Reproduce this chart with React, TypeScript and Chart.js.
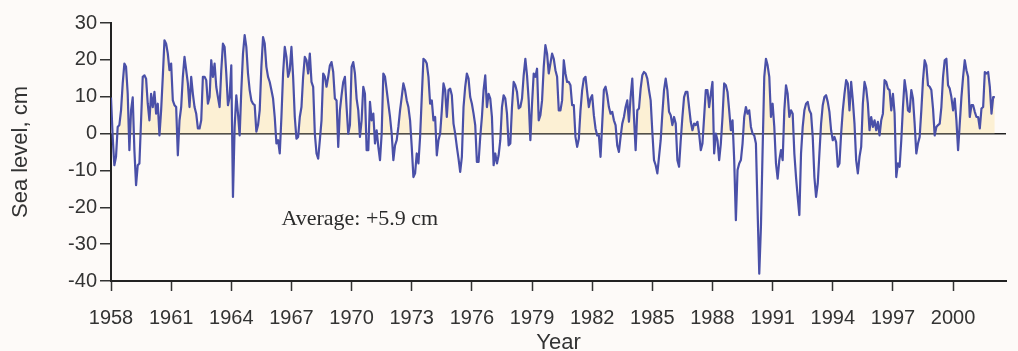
import React, { useEffect, useRef } from "react";
import { Chart, registerables } from "chart.js";

Chart.register(...registerables);

const startYear = 1958;
const yearTicks = [1958, 1961, 1964, 1967, 1970, 1973, 1976, 1979, 1982, 1985, 1988, 1991, 1994, 1997, 2000];
const levelTicks = [-40, -30, -20, -10, 0, 10, 20, 30];
const averageLabel = "Average: +5.9 cm";

// monthly sea level anomaly (cm), Jan 1958 onward
const seaLevel = [
  9.8, -0.9, -8.6, -6.3, 1.8, 2.3, 6.3, 13.6, 19, 18.1, 10.8, -4.5,
  6.3, 9.8, -4.5, -14, -8.6, -8.1, 3.6, 15.4, 15.8, 14.9, 8.1, 3.6,
  10.8, 7.2, 11.3, 5.4, 8.1, -0.5, 6.3, 15.4, 25.3, 24.4, 21.7, 17.2,
  19, 9, 7.7, 7.2, -5.9, 3.6, 7.2, 15.4, 20.8, 17.2, 13.6, 7.2,
  15.4, 10.8, 7.2, 5.4, 1.4, 1.4, 3.6, 15.4, 15.4, 14.5, 8.1, 9.9,
  19.9, 15.4, 19, 12.7, 9.9, 7.2, 17.2, 24.4, 23.5, 16.3, 7.7, 9.9,
  18.5, -17.2, 1.8, 10.4, 5.4, -0.5, 11.8, 21.7, 26.7, 23.5, 16.3, 11.8,
  9, 8.1, 7.7, 0.5, 2.3, 6.3, 18.1, 26.2, 24.4, 18.1, 15.4, 14,
  11.8, 9.5, 4.5, -2.7, -1.8, -5.4, 4.5, 16.3, 23.5, 20.8, 15.4, 17.2,
  23.5, 15.4, 4.5, -1.4, -0.9, 4.5, 7.2, 15.4, 20.8, 19.9, 16.3, 21.7,
  14, 12.7, 0, -5.4, -6.8, -1.8, 3.6, 16.3, 15.4, 12.7, 15.4, 18.5,
  19.4, 16.7, 9.5, 9, -3.6, 6.3, 10.4, 14, 15.4, 7.2, 0, 2.3,
  18.1, 19.4, 16.3, 9.5, 6.3, -0.9, 3.6, 12.7, 10.8, -4.5, -4.5, 8.6,
  3.6, 5.4, -2.7, 0.9, -3.6, -7.2, 0, 16.3, 15.4, 11.8, 8.1, 4.5,
  0, -7.2, -3.2, -1.8, 1.8, 6.3, 9.9, 13.6, 11.8, 9, 7.2, 3.6,
  -3.6, -11.8, -10.8, -5.4, -8.1, -0.9, 9.9, 20.3, 19.9, 19, 15.4, 8.1,
  9, 3.6, 4.5, -5.9, -1.8, 0, 6.3, 13.6, 11.8, 4.5, 11.8, 12.2,
  10.4, 2.7, 0, -3.6, -6.8, -10.4, -6.3, 7.2, 12.7, 16.3, 14.9, 9.9,
  8.1, 5.4, 2.3, -7.7, -7.7, -0.9, 4.5, 11.8, 15.8, 7.2, 10.8, 9.5,
  4.5, -8.6, -5.4, -8.1, -5.9, -1.8, 7.2, 10.4, 9.5, 5.4, -3.2, -2.7,
  7.2, 14, 13.1, 11.3, 6.8, 7.2, 9.5, 15.8, 20.3, 15.8, 9, -1.8,
  8.1, 16.3, 15.4, 17.6, 3.6, 5, 9, 18.1, 24, 21.7, 16.3, 19,
  21.7, 20.3, 17.2, 15.4, 6.3, 6.3, 9, 19.9, 16.3, 14, 14, 13.1,
  7.7, 7.7, -0.9, -3.6, -1.4, 6.3, 11.8, 14.9, 15.4, 11.3, 7.2, 9.5,
  10.4, 5, 1.4, -0.5, -0.5, -6.3, 2.7, 11.8, 12.7, 10.4, 7.2, 5.4,
  5.9, 3.6, 2.3, -3.2, -5, -0.9, 2.7, 4.5, 7.2, 9, 3.2, 9.9,
  14.9, 4.5, -4.5, 6.3, 6.8, 12.2, 15.8, 16.7, 16.3, 14.9, 11.8, 9,
  0.5, -7.2, -8.6, -10.8, -6.3, -1.8, 5.4, 11.8, 14.9, 11.8, 5.9, 5,
  2.3, 4.5, 2.7, -7.2, -9, -1.8, 4.5, 9.9, 11.3, 11.3, 7.2, 3.2,
  0.9, 2.7, 2.3, 3.2, 0, -4.5, -2.7, 4.5, 11.8, 11.8, 7.2, 10.8,
  14, -5.4, 0, -1.8, -7.2, -2.7, 4.5, 13.6, 13.1, 11.3, 6.3, 0.9,
  3.6, -7.2, -23.5, -9.9, -8.1, -7.2, -2.7, 4.5, 7.2, 5.4, 6.3, 1.8,
  0, -0.5, -2.7, -20.8, -38, -25.3, -4.5, 15.4, 20.3, 18.5, 15.4, 4.5,
  8.1, 1.8, -8.1, -12.2, -7.2, -4.5, -7.2, 6.3, 13.1, 10.8, 4.5, 6.3,
  5.4, -5.4, -11.8, -17.2, -22.1, -5.4, 1.8, 6.3, 8.1, 8.6, 6.3, 5.4,
  -0.9, -11.8, -17.2, -13.6, -5.4, 2.7, 7.7, 9.9, 10.4, 8.6, 5.9, 0.9,
  -1.8, -0.9, -2.3, -9, -8.1, 0, 6.3, 10.8, 14.5, 13.6, 6.3, 14,
  9, 2.7, -7.2, -10.8, -6.3, -3.6, 8.1, 14, 12.2, 8.1, 0.9, 4.5,
  1.8, 3.6, 0.9, 3.2, -0.5, 3.6, 5.4, 14.5, 14, 12.2, 11.8, 6.3,
  10.8, 5.4, -11.8, -8.1, -9, -1.8, 7.2, 14.5, 11.3, 6.3, 5.9, 11.8,
  9.5, 2.7, -5.4, -2.7, -0.9, 6.3, 14.5, 19.9, 18.5, 13.1, 12.7, 11.8,
  6.8, -0.5, 1.8, 2.3, 2.7, 7.2, 15.4, 19.9, 20.3, 13.1, 12.2, 9.9,
  6.3, 9.5, 3.6, -4.5, 2.7, 9.9, 15.4, 19.9, 17.2, 15.4, 4.5, 7.7,
  7.7, 5.9, 4.5, 4.5, 1.4, 6.8, 7.2, 16.7, 16.3, 16.7, 12.7, 5.4,
  9.9, 9.9,
];

const FONT = '"Liberation Sans", Arial, sans-serif';
const BG = "#fdfaf8";

export default function App() {
  const ref = useRef<HTMLCanvasElement | null>(null);

  useEffect(() => {
    if (!ref.current) return;
    const points = seaLevel.map((v, i) => ({ x: startYear + i / 12, y: v }));

    const bgPlugin = {
      id: "bg",
      beforeDraw(chart: any) {
        const c = chart.ctx;
        c.save();
        c.fillStyle = BG;
        c.fillRect(0, 0, chart.width, chart.height);
        c.restore();
      },
    };

    const labelPlugin = {
      id: "avgLabel",
      afterDraw(chart: any) {
        const c = chart.ctx;
        const xs = chart.scales.x;
        const ys = chart.scales.y;
        c.save();
        c.font = '22px "Liberation Serif", "Times New Roman", serif';
        c.fillStyle = "#2b2b2b";
        c.textAlign = "left";
        c.textBaseline = "middle";
        c.fillText(averageLabel, xs.getPixelForValue(1966.5), ys.getPixelForValue(-23.2));
        c.restore();
      },
    };

    const chart = new Chart(ref.current, {
      type: "line",
      data: {
        datasets: [
          {
            data: points,
            borderColor: "#4a50a8",
            borderWidth: 2.2,
            pointRadius: 0,
            tension: 0,
            borderJoinStyle: "round",
            fill: { target: { value: 0 }, above: "rgba(252,238,207,0.9)", below: "rgba(0,0,0,0)" },
          },
        ],
      },
      options: {
        animation: false,
        responsive: false,
        maintainAspectRatio: false,
        layout: { padding: { top: 23, right: 12, bottom: 0, left: 0 } },
        plugins: { legend: { display: false }, tooltip: { enabled: false } },
        scales: {
          x: {
            type: "linear",
            min: 1958,
            max: 2002.64,
            afterBuildTicks: (scale: any) => {
              scale.ticks = yearTicks.map((v) => ({ value: v }));
            },
            afterFit: (scale: any) => {
              scale.height = 70;
            },
            ticks: {
              autoSkip: false,
              maxRotation: 0,
              padding: 15,
              color: "#333",
              font: { family: FONT, size: 20 },
              callback: (v: any) => String(v),
            },
            grid: { drawOnChartArea: false, drawTicks: true, tickLength: 10, tickColor: "#333", tickWidth: 1.5 },
            border: { display: true, color: "#222", width: 2 },
            title: {
              display: true,
              text: "Year",
              color: "#333",
              font: { family: FONT, size: 22 },
              padding: { top: 0, bottom: -5 },
            },
          },
          y: {
            min: -40,
            max: 30,
            afterBuildTicks: (scale: any) => {
              scale.ticks = levelTicks.map((v) => ({ value: v }));
            },
            afterFit: (scale: any) => {
              scale.width = 111;
            },
            ticks: {
              padding: 3,
              color: "#333",
              font: { family: FONT, size: 20 },
            },
            grid: {
              drawOnChartArea: true,
              color: (ctx: any) => (ctx.tick && ctx.tick.value === 0 ? "#222" : "rgba(0,0,0,0)"),
              lineWidth: 1.5,
              drawTicks: true,
              tickLength: 11,
              tickColor: "#333",
              tickWidth: 1.5,
            },
            border: { display: true, color: "#222", width: 2 },
            title: {
              display: true,
              text: "Sea level, cm",
              color: "#333",
              font: { family: FONT, size: 22 },
              padding: { top: 8, bottom: 0 },
            },
          },
        },
      },
      plugins: [bgPlugin, labelPlugin],
    });
    return () => chart.destroy();
  }, []);

  return (
    <div style={{ position: "fixed", left: 0, top: 0, width: 1018, height: 351, background: BG }}>
      <canvas ref={ref} width={1018} height={351} style={{ display: "block", width: 1018, height: 351 }} />
    </div>
  );
}
